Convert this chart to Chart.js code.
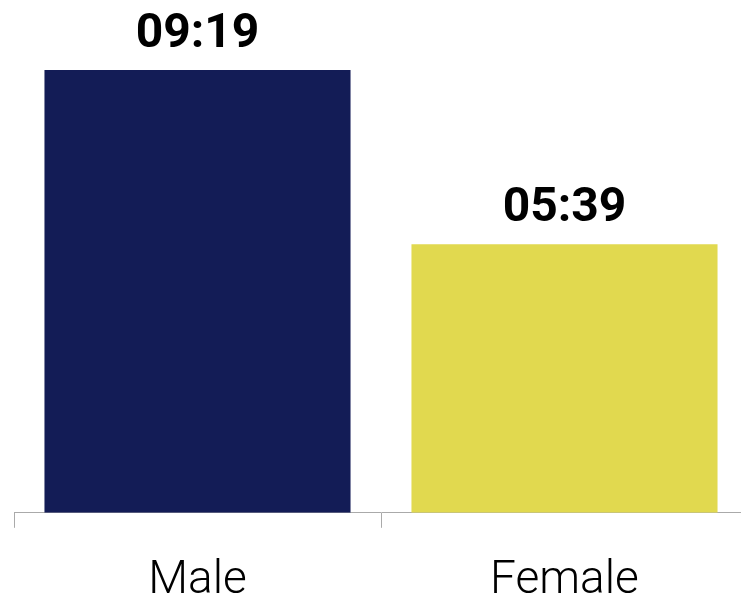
<!DOCTYPE html>
<html>
<head>
<meta charset="utf-8">
<script src="https://cdn.jsdelivr.net/npm/chart.js@4/dist/chart.umd.min.js"></script>
<style>
  html, body { margin: 0; padding: 0; background: #fff; overflow: hidden; }
  #wrap { position: absolute; left: 0; top: 0; width: 741px; height: 596px; overflow: hidden; }
</style>
</head>
<body>
<div id="wrap"><canvas id="chart" width="760" height="635"></canvas></div>
<script>
// average time per person, in minutes
const categories = ['Male', 'Female'];
const minutes = [559, 339];
const barColors = ['#131c56', '#e1d94f'];

function toClock(m) {
  const h = Math.floor(m / 60);
  const r = m % 60;
  return String(h).padStart(2, '0') + ':' + String(r).padStart(2, '0');
}

// writes hh:mm above each bar
const valueLabels = {
  id: 'valueLabels',
  afterDatasetsDraw(chart) {
    const ctx = chart.ctx;
    const meta = chart.getDatasetMeta(0);
    ctx.save();
    ctx.font = 'bold 48px Roboto';
    ctx.fillStyle = '#000';
    ctx.textAlign = 'center';
    ctx.textBaseline = 'alphabetic';
    meta.data.forEach((bar, i) => {
      ctx.fillText(toClock(minutes[i]), bar.x, bar.y - 23);
    });
    ctx.restore();
  }
};

new Chart(document.getElementById('chart').getContext('2d'), {
  type: 'bar',
  data: {
    labels: categories,
    datasets: [{
      data: minutes,
      backgroundColor: barColors,
      barPercentage: 0.834,
      categoryPercentage: 1
    }]
  },
  options: {
    responsive: false,
    animation: false,
    layout: { padding: { left: 14, right: 12, top: 70, bottom: 0 } },
    plugins: { legend: { display: false }, tooltip: { enabled: false } },
    scales: {
      x: {
        border: { display: true, color: '#aaaaaa', width: 1 },
        grid: { display: true, drawOnChartArea: false, color: '#aaaaaa', tickLength: 15, offset: true },
        ticks: { color: '#000', font: { family: 'Roboto', size: 46, weight: 300 }, padding: 26 }
      },
      y: { display: false, min: 0, max: 559 }
    }
  },
  plugins: [valueLabels]
});
</script>
</body>
</html>
